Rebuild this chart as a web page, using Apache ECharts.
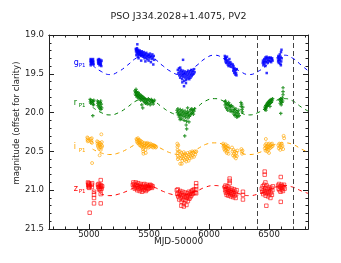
<!DOCTYPE html>
<html><head><meta charset="utf-8">
<script src="https://cdn.jsdelivr.net/npm/echarts@6/dist/echarts.min.js"></script>
<style>html,body{margin:0;padding:0;background:#fff}#c{width:341px;height:263px}</style>
</head><body><div id="c"></div>
<script>
// ---- data ----
const titleText = 'PSO J334.2028+1.4075, PV2';
const xName = 'MJD-50000';
const yName = 'magnitude (offset for clarity)';
const bandNames = ['g', 'r', 'i', 'z'];
const bandSub = 'P1';
const xMajorTicks = [5000, 5500, 6000, 6500];
const xMinorTicks = [4700,4800,4900,5100,5200,5300,5400,5600,5700,5800,5900,6100,6200,6300,6400,6600,6700,6800];
const yTickLabels = [19.0, 19.5, 20.0, 20.5, 21.0, 21.5];
const markerLines = [6400, 6700];
const labelMjd = 4873;
const labelMags = [19.358, 19.874, 20.445, 20.978];

const curveMjd = [5030,5102,5175,5248,5320,5392,5465,5538,5610,5682,5755,5828,5900,5972,6045,6118,6190,6262,6335,6408,6480,6552,6625,6698,6770,6825];
const gCurve = [19.39,19.47,19.51,19.47,19.39,19.30,19.26,19.30,19.39,19.47,19.51,19.47,19.39,19.30,19.26,19.30,19.39,19.47,19.51,19.47,19.39,19.30,19.26,19.30,19.39,19.46];
const rCurve = [19.93,20.00,20.03,20.00,19.93,19.85,19.82,19.85,19.93,20.00,20.03,20.00,19.93,19.85,19.82,19.85,19.93,20.00,20.03,20.00,19.93,19.85,19.82,19.85,19.93,19.98];
const iCurve = [20.47,20.52,20.54,20.52,20.47,20.41,20.39,20.41,20.47,20.52,20.54,20.52,20.47,20.41,20.39,20.41,20.47,20.52,20.54,20.52,20.47,20.41,20.39,20.41,20.47,20.51];
const zCurve = [21.01,21.05,21.07,21.05,21.01,20.96,20.94,20.96,21.01,21.05,21.07,21.05,21.01,20.96,20.94,20.96,21.01,21.05,21.07,21.05,21.01,20.96,20.94,20.96,21.01,21.04];

const gData = [
[5014,19.31],[5014,19.33],[5015,19.35],[5016,19.37],[5015,19.39],[5018,19.34],[5020,19.32],[5022,19.36],[5030,19.33],[5033,19.35],[5035,19.37],[5036,19.34],[5038,19.38],[5034,19.31],
[5075,19.32],[5076,19.35],[5078,19.37],[5080,19.33],[5083,19.31],[5085,19.36],[5088,19.39],[5090,19.34],[5094,19.32],[5096,19.37],[5100,19.35],[5103,19.40],[5105,19.33],[5098,19.38],
[5403,19.12],[5390,19.18],[5392,19.21],[5395,19.19],[5398,19.23],[5400,19.17],[5402,19.20],[5405,19.22],[5407,19.25],[5410,19.19],[5412,19.21],[5415,19.24],[5418,19.22],[5420,19.26],[5423,19.20],[5425,19.23],[5428,19.25],[5430,19.22],[5433,19.27],[5436,19.24],[5440,19.21],[5443,19.26],[5446,19.23],[5450,19.28],[5453,19.25],[5456,19.22],[5460,19.27],[5463,19.30],[5467,19.24],[5470,19.26],[5474,19.29],[5478,19.23],[5482,19.27],[5485,19.31],[5489,19.25],[5493,19.28],[5497,19.33],[5500,19.26],[5504,19.30],[5508,19.24],[5512,19.28],[5516,19.35],[5520,19.27],[5524,19.31],[5528,19.25],[5532,19.29],[5536,19.38],[5540,19.27],[5544,19.32],[5413,19.30],[5435,19.33],[5470,19.34],[5395,19.26],[5408,19.28],
[5740,19.45],[5745,19.49],[5750,19.43],[5752,19.52],[5756,19.47],[5760,19.55],[5763,19.50],[5766,19.45],[5770,19.53],[5773,19.48],[5776,19.57],[5780,19.51],[5783,19.46],[5786,19.54],[5790,19.49],[5793,19.59],[5796,19.52],[5800,19.47],[5803,19.55],[5806,19.50],[5810,19.58],[5813,19.53],[5816,19.48],[5820,19.56],[5823,19.51],[5826,19.46],[5830,19.54],[5833,19.49],[5836,19.57],[5840,19.52],[5843,19.47],[5846,19.55],[5850,19.50],[5853,19.45],[5856,19.53],[5860,19.48],[5864,19.51],[5868,19.46],[5872,19.50],[5876,19.44],[5880,19.48],[5784,19.32],[5792,19.66],[5778,19.61],[5808,19.62],[5760,19.42],
[6132,19.27],[6134,19.31],[6136,19.29],[6138,19.34],[6140,19.30],[6143,19.36],[6146,19.32],[6150,19.28],[6153,19.35],[6156,19.38],[6160,19.33],[6163,19.40],[6166,19.36],[6170,19.31],[6174,19.39],[6178,19.35],[6182,19.41],[6186,19.37],
[6198,19.38],[6200,19.42],[6202,19.46],[6204,19.40],[6207,19.44],[6210,19.49],[6213,19.43],[6216,19.47],[6220,19.51],[6223,19.45],[6226,19.49],[6229,19.52],[6231,19.44],
[6448,19.36],[6450,19.33],[6453,19.39],[6456,19.35],[6460,19.31],[6463,19.37],[6466,19.33],[6470,19.29],[6473,19.35],[6476,19.31],[6480,19.28],[6483,19.34],[6487,19.30],[6490,19.36],[6494,19.32],[6498,19.29],[6502,19.34],[6506,19.30],[6510,19.33],[6514,19.29],[6518,19.35],[6522,19.31],[6526,19.30],[6530,19.33],[6481,19.49],[6470,19.40],
[6574,19.30],[6576,19.34],[6578,19.27],[6580,19.32],[6582,19.36],[6585,19.29],[6588,19.33],[6590,19.25],[6592,19.31],[6595,19.37],[6597,19.28],[6600,19.22],[6602,19.34],[6604,19.19],[6606,19.30],[6599,19.39]
];
const rData = [
[5010,19.83],[5012,19.86],[5014,19.88],[5016,19.84],[5020,19.87],[5030,19.85],[5033,19.89],[5036,19.86],[5038,19.90],[5040,19.84],[5032,20.04],
[5070,19.85],[5073,19.88],[5076,19.91],[5080,19.86],[5083,19.93],[5086,19.89],[5090,19.95],[5094,19.87],[5097,19.92],[5100,19.96],[5103,19.89],[5106,19.94],[5098,19.85],
[5383,19.72],[5386,19.76],[5389,19.74],[5392,19.78],[5395,19.73],[5398,19.77],[5401,19.80],[5404,19.75],[5407,19.79],[5410,19.74],[5413,19.78],[5416,19.82],[5419,19.76],[5422,19.80],[5425,19.77],[5428,19.81],[5431,19.84],[5435,19.78],[5438,19.82],[5441,19.79],[5445,19.83],[5448,19.94],[5450,19.80],[5454,19.85],[5458,19.81],[5462,19.86],[5466,19.82],[5470,19.88],[5474,19.83],[5478,19.87],[5482,19.84],[5486,19.89],[5490,19.85],[5495,19.82],[5500,19.88],[5505,19.84],[5510,19.90],[5515,19.86],[5520,19.83],[5525,19.87],[5530,19.85],[5535,19.89],[5540,19.86],[5545,19.84],[5392,19.70],[5440,19.90],
[5733,19.97],[5737,20.00],[5741,19.95],[5745,20.03],[5749,19.98],[5753,20.06],[5757,20.01],[5761,19.96],[5765,20.04],[5769,19.99],[5773,20.08],[5777,20.02],[5781,19.97],[5785,20.05],[5789,20.00],[5793,20.10],[5797,20.03],[5801,19.98],[5805,20.06],[5809,20.01],[5813,20.11],[5817,20.04],[5821,19.99],[5825,20.07],[5829,20.02],[5833,20.12],[5837,20.05],[5841,19.98],[5845,20.03],[5849,19.96],[5853,20.01],[5857,19.95],[5861,20.00],[5865,19.97],[5870,20.02],[5875,19.98],[5880,19.95],[5810,20.16],[5814,20.21],[5798,20.30],[5760,20.09],[5822,19.94],
[6132,19.86],[6135,19.90],[6138,19.85],[6141,19.93],[6144,19.88],[6148,19.95],[6152,19.89],[6156,19.97],[6160,19.91],[6164,19.87],[6168,19.94],[6172,19.90],[6176,19.98],[6180,19.92],[6184,19.96],[6188,19.91],[6192,19.99],
[6200,19.93],[6204,19.98],[6208,20.02],[6212,19.96],[6216,20.04],[6220,20.00],[6224,19.95],[6228,20.03],[6232,20.06],[6236,19.99],[6240,20.05],[6244,20.01],[6248,19.97],[6252,20.04],
[6266,19.87],[6268,19.92],[6272,19.89],[6275,19.96],[6278,19.99],[6282,19.93],
[6464,19.96],[6467,19.93],[6470,19.95],[6473,19.91],[6476,19.94],[6479,19.90],[6482,19.92],[6485,19.88],[6488,19.91],[6491,19.87],[6494,19.90],[6497,19.86],[6500,19.89],[6503,19.85],[6506,19.88],[6510,19.84],[6514,19.87],[6518,19.83],[6522,19.86],[6526,19.84],[6530,19.82],[6475,19.97],[6508,19.92],
[6590,19.84],[6593,19.88],[6596,19.82],[6599,19.86],[6602,19.90],[6605,19.83],[6608,19.87],[6611,19.81],[6614,19.85],[6617,19.68],[6617,19.73],[6617,19.77],[6598,20.01]
];
const iData = [
[4986,20.32],[4988,20.35],[4990,20.37],[4992,20.33],[4995,20.36],[5015,20.34],[5018,20.38],[5020,20.36],[5023,20.33],[5025,20.39],
[5068,20.37],[5071,20.40],[5074,20.43],[5077,20.38],[5080,20.45],[5083,20.41],[5086,20.47],[5089,20.42],[5092,20.39],[5095,20.44],[5098,20.48],[5101,20.41],[5104,20.45],[5107,20.38],[5110,20.43],[5103,20.28],[5089,20.55],[5026,20.65],
[5396,20.34],[5399,20.37],[5402,20.35],[5405,20.39],[5408,20.33],[5411,20.36],[5414,20.40],[5417,20.35],[5420,20.38],[5423,20.42],[5426,20.36],[5429,20.39],[5432,20.43],[5435,20.37],[5438,20.41],[5441,20.44],[5444,20.38],[5447,20.42],[5450,20.47],[5452,20.50],[5454,20.53],[5456,20.45],[5458,20.40],[5461,20.43],[5464,20.39],[5467,20.42],[5470,20.48],[5473,20.52],[5476,20.44],[5479,20.40],[5483,20.43],[5487,20.39],[5491,20.42],[5495,20.45],[5500,20.41],[5505,20.44],[5510,20.40],[5515,20.43],[5520,20.41],[5525,20.44],[5530,20.42],[5535,20.45],[5540,20.42],[5545,20.44],[5550,20.43],[5556,20.45],[5560,20.44],
[5736,20.40],[5737,20.44],[5738,20.48],[5739,20.52],[5740,20.56],[5741,20.60],[5744,20.42],[5746,20.50],[5747,20.58],
[5758,20.50],[5762,20.55],[5766,20.59],[5770,20.52],[5774,20.57],[5778,20.62],[5782,20.54],[5786,20.59],[5790,20.51],[5794,20.56],[5798,20.61],[5802,20.53],[5806,20.58],[5810,20.63],[5814,20.55],[5818,20.60],[5822,20.52],[5826,20.57],[5830,20.62],[5834,20.54],[5838,20.59],[5842,20.51],[5846,20.56],[5850,20.53],[5855,20.58],[5860,20.50],[5865,20.55],[5870,20.52],[5875,20.57],[5880,20.50],[5885,20.54],[5890,20.51],[5894,20.50],[5760,20.66],[5773,20.66],
[6118,20.40],[6121,20.44],[6124,20.42],[6127,20.47],[6130,20.43],[6133,20.49],[6136,20.45],[6139,20.41],[6142,20.48],[6145,20.44],[6148,20.52],[6151,20.46],[6154,20.50],[6157,20.43],[6160,20.47],[6163,20.53],
[6192,20.45],[6196,20.50],[6200,20.55],[6204,20.48],[6208,20.53],[6212,20.57],[6216,20.50],[6220,20.55],[6224,20.59],[6228,20.52],[6232,20.56],[6236,20.49],
[6270,20.47],[6273,20.50],[6276,20.53],[6279,20.49],
[6465,20.46],[6468,20.42],[6471,20.49],[6474,20.44],[6477,20.40],[6480,20.47],[6483,20.43],[6486,20.50],[6489,20.45],[6492,20.41],[6495,20.48],[6498,20.44],[6502,20.40],[6506,20.46],[6510,20.42],[6514,20.45],[6518,20.41],[6522,20.44],[6526,20.40],[6530,20.43],[6474,20.34],[6500,20.52],
[6578,20.42],[6582,20.46],[6586,20.40],[6590,20.44],[6594,20.48],[6598,20.42],[6602,20.45],[6606,20.40],[6612,20.43],[6622,20.30],[6626,20.33],[6618,20.47]
];
const zData = [
[4992,20.90],[4994,20.93],[4996,20.96],[4998,20.91],[5000,20.94],[5002,20.97],[5004,20.92],[5006,20.95],[5022,20.93],[5024,20.96],[5026,20.91],[5042,21.02],[5042,21.06],[5042,21.10],[5042,21.17],[5006,21.29],
[5075,20.93],[5078,20.96],[5081,20.92],[5084,20.99],[5087,20.95],[5090,20.98],[5093,20.93],[5096,21.00],[5099,20.96],[5102,20.94],[5105,20.98],[5110,20.95],[5098,20.87],[5098,21.17],[5098,21.05],
[5366,20.93],[5370,20.90],[5374,20.96],[5378,20.92],[5382,20.98],[5386,20.94],[5390,20.90],[5394,20.97],[5398,20.93],[5402,21.00],[5406,20.95],[5410,20.91],[5414,20.98],[5418,20.94],[5422,21.01],[5426,20.96],[5430,20.92],[5434,20.99],[5438,20.95],[5442,21.02],[5446,20.97],[5450,20.93],[5454,21.00],[5458,20.96],[5462,20.92],[5466,20.99],[5470,20.95],[5474,21.01],[5478,20.97],[5482,20.93],[5486,20.99],[5490,20.95],[5495,20.98],[5500,20.94],[5505,20.97],[5510,20.93],[5515,20.96],[5520,20.94],[5525,20.97],[5530,20.95],
[5732,21.00],[5736,21.05],[5740,20.99],[5744,21.08],[5748,21.03],[5752,21.12],[5756,21.06],[5760,21.01],[5764,21.10],[5768,21.04],[5772,21.15],[5776,21.08],[5780,21.02],[5784,21.12],[5788,21.06],[5792,21.17],[5796,21.09],[5800,21.03],[5804,21.13],[5808,21.07],[5812,21.19],[5816,21.10],[5820,21.04],[5824,21.14],[5828,21.08],[5832,21.02],[5836,21.11],[5840,21.05],[5844,21.09],[5848,21.03],[5852,21.07],[5856,21.01],[5860,21.05],[5865,21.00],[5870,21.04],[5876,20.99],[5885,21.03],[5893,20.91],[5893,20.95],[5893,20.99],[5893,21.04],[5790,21.21],[5770,21.20],
[6132,20.96],[6135,21.00],[6138,20.94],[6141,21.03],[6144,20.98],[6147,21.06],[6150,21.01],[6153,20.95],[6156,21.04],[6159,20.99],[6162,21.07],[6165,21.02],[6168,20.97],[6172,20.85],[6172,20.88],[6172,20.91],[6175,21.05],[6178,21.00],[6182,21.08],[6186,21.03],[6190,20.98],[6194,21.06],[6198,21.01],[6202,21.09],[6206,21.04],[6210,20.99],[6214,21.07],[6218,21.02],[6222,21.10],[6226,21.05],[6230,21.00],[6283,21.02],[6283,21.06],[6283,21.12],
[6440,20.98],[6444,21.02],[6448,20.95],[6452,21.05],[6456,21.00],[6460,20.93],[6464,21.03],[6468,20.97],[6472,21.07],[6476,21.01],[6480,20.94],[6484,21.04],[6488,20.98],[6492,21.08],[6496,21.02],[6500,20.96],[6504,21.05],[6508,20.99],[6512,21.10],[6516,21.03],[6520,20.97],[6524,21.06],[6528,21.00],[6532,20.95],[6464,20.76],[6464,20.80],[6478,21.20],[6470,20.90],
[6576,20.94],[6580,20.98],[6584,20.92],[6588,21.00],[6592,20.95],[6596,21.02],[6600,20.97],[6604,20.93],[6608,20.99],[6612,20.95],[6616,21.01],[6620,20.96],[6625,20.93],[6630,20.98],[6598,20.83],[6598,21.15]
];

// ---- styling ----
const colors = ['#0000ff', '#008000', '#ffa500', '#ff0000'];
const FONT = 'DejaVu Sans';
const X_MIN = 4667, X_MAX = 6825;
const curves = [gCurve, rCurve, iCurve, zCurve];
const datas = [gData, rData, iData, zData];
const symbols = [
  {symbol: 'rect', symbolSize: 2.5, itemStyle: {color: colors[0]}},
  {symbol: 'path://M1,0H2V1H3V2H2V3H1V2H0V1H1Z', symbolSize: 3.5, itemStyle: {color: colors[1]}},
  {symbol: 'circle', symbolSize: 3, itemStyle: {color: 'rgba(0,0,0,0)', borderColor: colors[2], borderWidth: 0.8}},
  {symbol: 'rect', symbolSize: 3.5, itemStyle: {color: 'rgba(0,0,0,0)', borderColor: colors[3], borderWidth: 0.8}}
];

function xAx(pos, ticks, len, labels) {
  return {
    type: 'value', position: pos, min: X_MIN, max: X_MAX,
    axisLine: {show: true, onZero: false, lineStyle: {color: '#222', width: 1}},
    axisTick: {show: true, inside: true, length: len, customValues: ticks, lineStyle: {color: '#222'}},
    axisLabel: labels ? {show: true, customValues: ticks, fontFamily: FONT, fontSize: 8.5, color: '#222', margin: 1, formatter: v => String(Math.round(v))} : {show: false},
    splitLine: {show: false}
  };
}
function yAx(pos, labels) {
  return {
    type: 'value', position: pos, min: 19, max: 21.5, interval: 0.5, inverse: true,
    axisLine: {show: true, onZero: false, lineStyle: {color: '#222', width: 1}},
    axisTick: {show: true, inside: true, length: 5, lineStyle: {color: '#222'}},
    minorTick: {show: true, splitNumber: 5, length: 2.5, lineStyle: {color: '#222'}},
    axisLabel: labels ? {show: true, fontFamily: FONT, fontSize: 8.5, color: '#222', margin: 5, formatter: v => v.toFixed(1)} : {show: false},
    splitLine: {show: false}, minorSplitLine: {show: false}
  };
}

const series = [];
curves.forEach((c, k) => {
  series.push({
    type: 'line', xAxisIndex: 0, yAxisIndex: 0, smooth: 0.5, symbol: 'none', silent: true,
    data: curveMjd.map((m, j) => [m, c[j]]),
    lineStyle: {color: colors[k], width: 1, type: [4, 4]},
    z: 2
  });
});
series[0].markLine = {
  silent: true, symbol: 'none', label: {show: false},
  lineStyle: {color: '#444', width: 1, type: [5, 3]},
  data: markerLines.map(v => ({xAxis: v}))
};
datas.forEach((d, k) => {
  series.push(Object.assign({
    type: 'scatter', xAxisIndex: 0, yAxisIndex: 0, data: d, z: 3, silent: true
  }, symbols[k]));
});

const chart = echarts.init(document.getElementById('c'), null, {renderer: 'canvas'});
chart.setOption({
  animation: false,
  backgroundColor: '#fff',
  grid: {left: 49, right: 33, top: 35, bottom: 34},
  xAxis: [
    xAx('bottom', xMajorTicks, 5, true),
    xAx('top', xMajorTicks, 5, false),
    xAx('bottom', xMinorTicks, 2.5, false),
    xAx('top', xMinorTicks, 2.5, false)
  ],
  yAxis: [yAx('left', true), yAx('right', false)],
  series: series
});

// text annotations placed through the chart's own scales
const graphics = [];
const p0 = chart.convertToPixel({gridIndex: 0}, [X_MIN, 19.0]);
const p1 = chart.convertToPixel({gridIndex: 0}, [X_MAX, 21.5]);
const cx = (p0[0] + p1[0]) / 2;
graphics.push({type: 'text', x: cx, y: 17, style: {text: titleText, fontFamily: FONT, fontSize: 9.5, fill: '#222', align: 'center', verticalAlign: 'middle'}});
graphics.push({type: 'text', x: cx, y: p1[1] + 13, style: {text: xName, fontFamily: FONT, fontSize: 9, fill: '#222', align: 'center', verticalAlign: 'middle'}});
graphics.push({type: 'text', x: 17, y: (p0[1] + p1[1]) / 2 - 9, rotation: Math.PI / 2, style: {text: yName, fontFamily: FONT, fontSize: 8.5, fill: '#222', align: 'center', verticalAlign: 'middle'}});
bandNames.forEach((b, k) => {
  const p = chart.convertToPixel({gridIndex: 0}, [labelMjd, labelMags[k]]);
  graphics.push({type: 'text', x: p[0], y: p[1], style: {text: b, fontFamily: FONT, fontSize: 8, fill: colors[k], align: 'left', verticalAlign: 'middle'}});
  graphics.push({type: 'text', x: p[0] + 5, y: p[1] + 3, style: {text: bandSub, fontFamily: FONT, fontSize: 5.5, fill: colors[k], align: 'left', verticalAlign: 'middle'}});
});
chart.setOption({graphic: graphics});
</script>
</body></html>
